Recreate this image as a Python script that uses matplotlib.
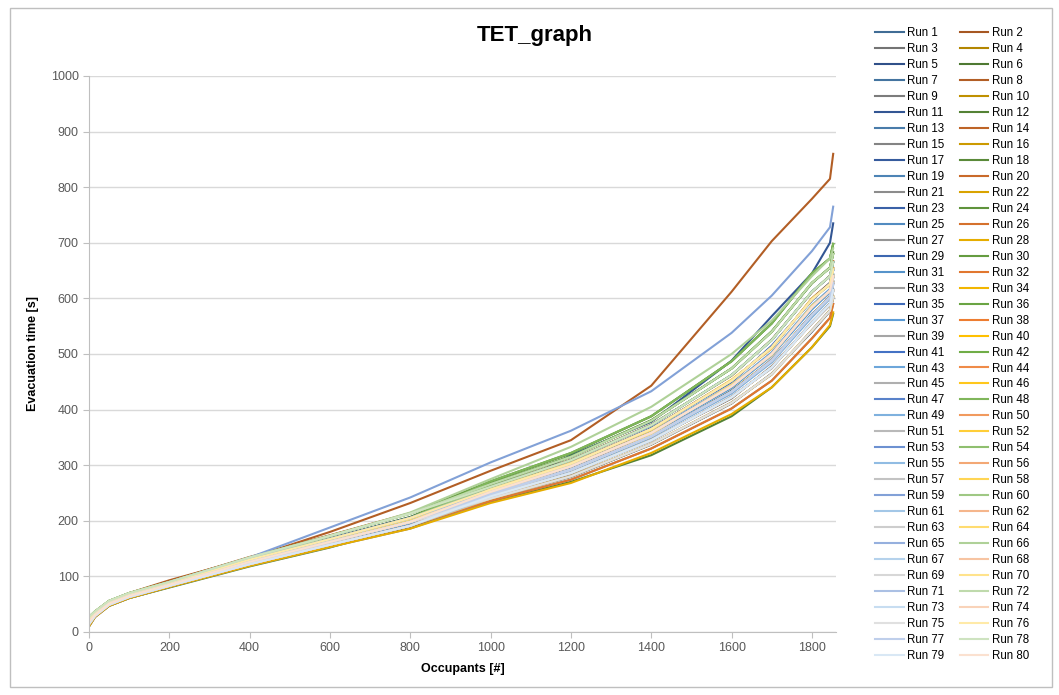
import matplotlib
matplotlib.use("Agg")
import matplotlib.pyplot as plt
from matplotlib.colors import to_rgb
from matplotlib.patches import Rectangle

occupants = [0, 15, 50, 100, 200, 400, 600, 800, 1000, 1200, 1400, 1600, 1700, 1800, 1845, 1853]

# evacuation time [s] per run at the occupant counts above
run_1 = [17, 31, 52, 65, 86, 126, 161, 197, 247, 293, 354, 430, 490, 568, 604, 631]
run_2 = [22, 34, 53, 67, 88, 131, 168, 206, 257, 304, 366, 453, 510, 600, 628, 655]
run_3 = [14, 29, 49, 63, 83, 121, 157, 190, 243, 285, 346, 420, 478, 555, 588, 612]
run_4 = [19, 31, 51, 66, 85, 127, 163, 199, 252, 297, 357, 443, 499, 585, 615, 642]
run_5 = [10, 27, 47, 61, 81, 120, 154, 187, 240, 279, 337, 411, 465, 540, 577, 600]
run_6 = [23, 34, 54, 67, 87, 131, 168, 207, 266, 316, 381, 474, 541, 627, 656, 683]
run_7 = [18, 30, 51, 65, 84, 125, 161, 197, 244, 287, 344, 423, 475, 557, 591, 616]
run_8 = [22, 36, 55, 70, 93, 133, 180, 232, 290, 345, 443, 612, 703, 779, 815, 860]
run_9 = [14, 29, 49, 63, 82, 122, 158, 192, 251, 297, 359, 441, 501, 583, 613, 638]
run_10 = [22, 33, 53, 67, 87, 129, 166, 204, 248, 291, 351, 433, 487, 571, 601, 627]
run_11 = [16, 30, 51, 65, 85, 125, 158, 192, 243, 318, 378, 488, 568, 645, 700, 735]
run_12 = [12, 28, 47, 61, 80, 118, 152, 192, 234, 270, 318, 388, 440, 512, 550, 572]
run_13 = [18, 31, 52, 65, 85, 127, 163, 198, 256, 302, 364, 451, 513, 597, 627, 651]
run_14 = [27, 37, 56, 70, 91, 135, 174, 214, 262, 310, 373, 461, 526, 611, 641, 667]
run_15 = [14, 29, 49, 62, 83, 122, 156, 191, 239, 281, 338, 413, 463, 543, 579, 604]
run_16 = [18, 32, 51, 65, 85, 126, 162, 199, 249, 291, 351, 434, 489, 571, 603, 629]
run_17 = [22, 34, 53, 67, 87, 130, 167, 205, 261, 309, 372, 462, 525, 612, 640, 665]
run_18 = [18, 31, 51, 65, 86, 127, 163, 200, 270, 321, 388, 487, 555, 645, 672, 698]
run_19 = [15, 29, 49, 63, 84, 123, 158, 192, 247, 293, 351, 434, 486, 572, 600, 626]
run_20 = [21, 34, 53, 67, 87, 129, 166, 204, 253, 297, 360, 440, 502, 582, 616, 641]
run_21 = [10, 27, 47, 61, 81, 119, 153, 186, 236, 274, 330, 402, 452, 528, 565, 590]
run_22 = [18, 31, 51, 65, 85, 126, 162, 198, 244, 286, 345, 422, 476, 556, 590, 615]
run_23 = [21, 34, 53, 67, 88, 130, 166, 204, 256, 303, 365, 452, 512, 598, 626, 652]
run_24 = [23, 35, 53, 68, 87, 131, 167, 206, 266, 315, 380, 474, 540, 628, 655, 680]
run_25 = [17, 31, 50, 65, 86, 125, 163, 197, 253, 299, 357, 444, 498, 586, 612, 638]
run_26 = [13, 29, 50, 63, 83, 122, 157, 191, 244, 286, 345, 422, 476, 556, 590, 615]
run_27 = [19, 31, 51, 65, 85, 126, 163, 198, 248, 292, 352, 432, 488, 570, 602, 628]
run_28 = [10, 27, 47, 61, 81, 119, 153, 186, 232, 268, 322, 392, 440, 512, 552, 575]
run_29 = [22, 34, 53, 67, 87, 130, 167, 205, 261, 309, 372, 462, 525, 612, 640, 665]
run_30 = [27, 37, 56, 70, 90, 134, 173, 213, 271, 322, 388, 487, 555, 645, 672, 698]
run_31 = [18, 30, 51, 66, 85, 127, 162, 199, 253, 297, 359, 443, 501, 583, 615, 641]
run_32 = [14, 29, 49, 63, 83, 122, 157, 191, 236, 274, 330, 402, 452, 528, 565, 590]
run_33 = [17, 31, 51, 65, 85, 126, 162, 198, 248, 293, 351, 432, 489, 569, 602, 628]
run_34 = [18, 31, 52, 65, 85, 126, 161, 198, 240, 280, 338, 412, 464, 542, 578, 603]
run_35 = [22, 34, 53, 67, 87, 130, 168, 205, 256, 303, 365, 452, 512, 598, 626, 652]
run_36 = [22, 34, 53, 67, 87, 130, 167, 205, 266, 316, 380, 474, 540, 628, 655, 680]
run_37 = [19, 32, 52, 66, 86, 127, 164, 200, 251, 296, 356, 439, 497, 580, 611, 636]
run_38 = [14, 29, 49, 63, 83, 122, 157, 191, 244, 286, 345, 422, 476, 556, 590, 615]
run_39 = [18, 30, 50, 64, 84, 125, 161, 196, 249, 294, 353, 430, 491, 567, 605, 630]
run_40 = [14, 29, 49, 63, 83, 122, 157, 191, 240, 280, 338, 412, 464, 542, 578, 603]
run_41 = [23, 35, 54, 68, 88, 131, 168, 206, 258, 301, 367, 449, 515, 596, 628, 650]
run_42 = [27, 37, 56, 70, 90, 134, 173, 213, 266, 315, 380, 474, 540, 628, 655, 680]
run_43 = [16, 30, 50, 64, 84, 125, 160, 196, 250, 296, 360, 445, 503, 588, 617, 644]
run_44 = [18, 31, 51, 65, 85, 126, 162, 198, 248, 292, 352, 432, 488, 570, 602, 628]
run_45 = [14, 29, 49, 63, 83, 122, 157, 191, 244, 286, 345, 422, 476, 556, 590, 615]
run_46 = [22, 34, 53, 67, 87, 130, 167, 205, 252, 298, 358, 442, 500, 584, 614, 640]
run_47 = [18, 31, 51, 65, 85, 126, 162, 198, 261, 309, 372, 462, 525, 612, 640, 665]
run_48 = [22, 34, 53, 67, 87, 130, 167, 205, 271, 322, 388, 487, 555, 645, 672, 698]
run_49 = [19, 32, 51, 66, 86, 127, 163, 200, 246, 290, 350, 429, 485, 566, 599, 624]
run_50 = [14, 29, 49, 63, 83, 122, 157, 191, 252, 298, 358, 442, 500, 584, 614, 640]
run_51 = [17, 30, 50, 64, 84, 125, 161, 197, 243, 287, 343, 424, 474, 558, 588, 613]
run_52 = [22, 34, 53, 67, 87, 130, 167, 205, 256, 303, 365, 452, 512, 598, 626, 652]
run_53 = [18, 31, 51, 65, 85, 126, 162, 198, 256, 303, 365, 452, 512, 598, 626, 652]
run_54 = [27, 37, 56, 70, 90, 134, 173, 213, 261, 309, 372, 462, 525, 612, 640, 665]
run_55 = [18, 31, 51, 65, 85, 126, 162, 198, 252, 298, 358, 442, 500, 584, 614, 640]
run_56 = [22, 34, 53, 67, 87, 130, 167, 205, 248, 292, 352, 432, 488, 570, 602, 628]
run_57 = [14, 29, 49, 63, 83, 122, 157, 191, 240, 280, 338, 412, 464, 542, 578, 603]
run_58 = [19, 32, 52, 66, 86, 127, 163, 199, 257, 304, 363, 454, 510, 600, 624, 654]
run_59 = [18, 32, 53, 68, 90, 134, 188, 242, 305, 362, 433, 538, 605, 685, 728, 765]
run_60 = [22, 34, 53, 67, 87, 130, 167, 205, 261, 309, 372, 462, 525, 612, 640, 665]
run_61 = [18, 31, 51, 65, 85, 126, 162, 198, 248, 292, 352, 432, 488, 570, 602, 628]
run_62 = [14, 29, 49, 63, 83, 122, 157, 191, 252, 298, 358, 442, 500, 584, 614, 640]
run_63 = [18, 31, 51, 65, 85, 126, 162, 198, 244, 286, 345, 422, 476, 556, 590, 615]
run_64 = [21, 33, 52, 66, 87, 129, 166, 203, 254, 300, 356, 445, 498, 587, 613, 638]
run_65 = [22, 34, 53, 67, 87, 130, 167, 205, 256, 303, 365, 452, 512, 598, 626, 652]
run_66 = [20, 33, 54, 68, 89, 131, 172, 215, 275, 333, 405, 500, 560, 640, 672, 690]
run_67 = [18, 31, 51, 65, 85, 126, 162, 198, 252, 298, 358, 442, 500, 584, 614, 640]
run_68 = [14, 29, 49, 63, 83, 122, 157, 191, 248, 292, 352, 432, 488, 570, 602, 628]
run_69 = [18, 31, 51, 65, 85, 126, 162, 198, 244, 286, 345, 422, 476, 556, 590, 615]
run_70 = [18, 31, 51, 65, 85, 126, 162, 198, 256, 303, 365, 452, 512, 598, 626, 652]
run_71 = [22, 34, 53, 67, 87, 130, 167, 205, 252, 298, 358, 442, 500, 584, 614, 640]
run_72 = [27, 37, 56, 70, 90, 134, 173, 213, 266, 315, 380, 474, 540, 628, 655, 680]
run_73 = [14, 29, 49, 63, 83, 122, 157, 191, 248, 292, 352, 432, 488, 570, 602, 628]
run_74 = [18, 31, 51, 65, 85, 126, 162, 198, 252, 298, 358, 442, 500, 584, 614, 640]
run_75 = [18, 31, 51, 65, 85, 126, 162, 198, 240, 280, 338, 412, 464, 542, 578, 603]
run_76 = [22, 34, 53, 67, 87, 130, 167, 205, 256, 303, 365, 452, 512, 598, 626, 652]
run_77 = [18, 31, 51, 65, 85, 126, 162, 198, 248, 292, 352, 432, 488, 570, 602, 628]
run_78 = [27, 37, 56, 70, 90, 134, 173, 213, 261, 309, 372, 462, 525, 612, 640, 665]
run_79 = [14, 29, 49, 63, 83, 122, 157, 191, 244, 286, 345, 422, 476, 556, 590, 615]
run_80 = [18, 31, 51, 65, 85, 126, 162, 198, 252, 298, 358, 442, 500, 584, 614, 640]

n_runs = 80
runs = [globals()[f"run_{i}"] for i in range(1, n_runs + 1)]
run_labels = [f"Run {i}" for i in range(1, n_runs + 1)]

# Office theme accents, cycled with shades from dark to very light
accents = ["#5B9BD5", "#ED7D31", "#A5A5A5", "#FFC000", "#4472C4", "#70AD47"]


def run_color(i):
    base = to_rgb(accents[i % 6])
    g = i // 6
    if g < 6:
        t = -0.3 + 0.05 * g
        return tuple(c * (1 + t) for c in base)
    t = (g - 6) * 0.11
    return tuple(c + (1 - c) * t for c in base)


plt.rcParams['font.family'] = ['Liberation Sans', 'DejaVu Sans']

fig = plt.figure(figsize=(10.59, 6.95), dpi=100)
ax = fig.add_axes([89 / 1059, 63 / 695, 747 / 1059, 556 / 695])

handles = []
for i, (vals, lab) in enumerate(zip(runs, run_labels)):
    h, = ax.plot(occupants, vals, color=run_color(i), lw=1.5, label=lab,
                 solid_joinstyle='round')
    handles.append(h)

ax.set_xlim(0, 1860)
ax.set_ylim(0, 1000)
ax.set_xticks(range(0, 1801, 200))
ax.set_yticks(range(0, 1001, 100))
ax.grid(axis='y', color='#D9D9D9', lw=1)
ax.set_axisbelow(True)
for s in ['top', 'right']:
    ax.spines[s].set_visible(False)
for s in ['left', 'bottom']:
    ax.spines[s].set_color('#BFBFBF')
ax.tick_params(colors='#BFBFBF', labelcolor='#595959', labelsize=9, length=4)
ax.set_xlabel('Occupants [#]', fontsize=9, fontweight='bold', labelpad=6)
ax.set_ylabel('Evacuation time [s]', fontsize=9, fontweight='bold', labelpad=8)

fig.text(535 / 1059, 1 - 36 / 695, 'TET_graph', ha='center', va='center',
         fontsize=16, fontweight='bold')

# legend in two columns: odd runs left, even runs right
order = list(range(0, n_runs, 2)) + list(range(1, n_runs, 2))
fig.legend([handles[k] for k in order], [run_labels[k] for k in order],
           loc='upper left', bbox_to_anchor=(875 / 1059, 1 - 27 / 695),
           ncol=2, frameon=False, fontsize=8.3, handlelength=2.5,
           handletextpad=0.3, columnspacing=1.3, labelspacing=0.345,
           borderpad=0, borderaxespad=0)

fig.patches.append(Rectangle((10 / 1059, 8 / 695), 1042 / 1059, 679 / 695,
                             transform=fig.transFigure, fill=False,
                             edgecolor='#BFBFBF', lw=1))

fig.savefig('out.png', dpi=100)
